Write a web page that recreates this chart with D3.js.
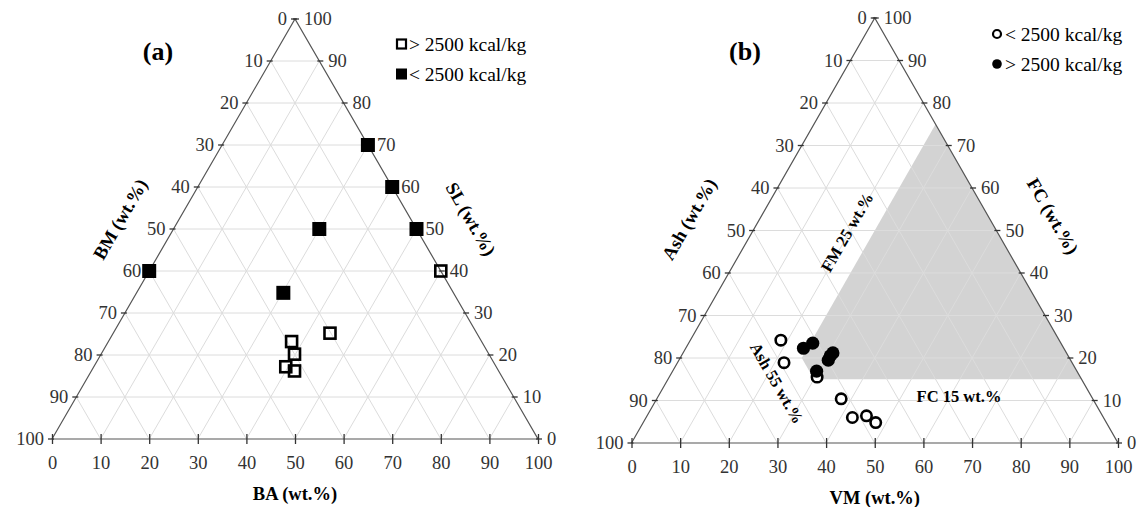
<!DOCTYPE html>
<html>
<head>
<meta charset="utf-8">
<script src="https://cdn.jsdelivr.net/npm/d3@7"></script>
<style>
  body { margin: 0; background: #fff; }
  svg text { font-family: "Liberation Serif", "Times New Roman", serif; }
</style>
</head>
<body>
<div id="chart"></div>
<script>
// valores de ticks en los tres ejes
const ticks = [0, 10, 20, 30, 40, 50, 60, 70, 80, 90, 100];

// (a) BA = eje inferior, SL = eje derecho, BM = 100 - BA - SL
const aOpenBA = [60, 44.6, 37.7, 39.8, 39.5, 41.8];
const aOpenSL = [40, 25.2, 23.2, 20.2, 17.2, 16.2];
const aFilledBA = [30, 40, 50, 30, 0, 30.2];
const aFilledSL = [70, 60, 50, 50, 40, 34.8];

// (b) VM = eje inferior, FC = eje derecho, Ash = 100 - VM - FC
const bOpenVM = [18.6, 21.9, 30.4, 37.9, 42.4, 45.1, 47.8];
const bOpenFC = [24.2, 18.9, 15.5, 10.4, 6.0, 6.4, 4.8];
const bFilledVM = [24.2, 25.5, 30.7, 30.8, 30.6, 29.6];
const bFilledFC = [22.3, 23.5, 19.5, 21.2, 20.5, 16.9];

// zona sombreada (VM >= 25, Ash <= 55, FC >= 15)
const regionVM = [25, 25, 30, 85];
const regionFC = [75, 20, 15, 15];

const svg = d3.select("#chart").append("svg")
    .attr("width", 1142)
    .attr("height", 507);

function ternary(cfg) {
    const g = svg.append("g");
    const x = d3.scaleLinear().domain([0, 100]).range([cfg.left, cfg.right]);
    const y = d3.scaleLinear().domain([0, 100]).range([cfg.bottom, cfg.top]);
    // b = variable inferior, r = variable derecha
    const px = (b, r) => x(b + r / 2);
    const py = (b, r) => y(r);

    // region sombreada
    if (cfg.region) {
        const pts = cfg.region.vm.map((v, i) => [px(v, cfg.region.fc[i]), py(v, cfg.region.fc[i])]);
        g.append("path")
            .attr("d", d3.line()(pts) + "Z")
            .attr("fill", "#d3d3d3");
    }

    // grilla
    const grid = g.append("g").attr("stroke", "#dcdcdc").attr("stroke-width", 1);
    ticks.slice(1, -1).forEach(k => {
        grid.append("line") // derecha constante (horizontal)
            .attr("x1", px(0, k)).attr("y1", py(0, k))
            .attr("x2", px(100 - k, k)).attr("y2", py(100 - k, k));
        grid.append("line") // inferior constante
            .attr("x1", px(k, 0)).attr("y1", py(k, 0))
            .attr("x2", px(k, 100 - k)).attr("y2", py(k, 100 - k));
        grid.append("line") // izquierda constante
            .attr("x1", px(100 - k, 0)).attr("y1", py(100 - k, 0))
            .attr("x2", px(0, 100 - k)).attr("y2", py(0, 100 - k));
    });

    // bordes
    g.append("path")
        .attr("d", d3.line()([[px(0, 0), py(0, 0)], [px(100, 0), py(100, 0)], [px(0, 100), py(0, 100)], [px(0, 0), py(0, 0)]]))
        .attr("fill", "none")
        .attr("stroke", "#555")
        .attr("stroke-width", 1.2);

    // eje inferior
    const bx = g.append("g")
        .attr("transform", `translate(0, ${cfg.bottom})`)
        .call(d3.axisBottom(x).tickValues(ticks).tickSize(5).tickPadding(12));
    bx.select(".domain").remove();
    bx.selectAll(".tick line").attr("y1", -5).attr("stroke", "#333").attr("stroke-width", 1.3);
    bx.selectAll(".tick text")
        .attr("font-size", 18.5)
        .attr("fill", "#333");

    // ticks izquierda y derecha
    ticks.forEach(k => {
        const lx = px(0, 100 - k), ly = py(0, 100 - k);
        g.append("line").attr("x1", lx - 4).attr("x2", lx + 2).attr("y1", ly).attr("y2", ly)
            .attr("stroke", "#333").attr("stroke-width", 1.3);
        g.append("text")
            .attr("x", lx - 8).attr("y", ly).attr("dy", "0.35em")
            .attr("text-anchor", "end")
            .attr("font-size", 18.5).attr("fill", "#333")
            .text(k);
        const rx = px(100 - k, k), ry = py(100 - k, k);
        g.append("line").attr("x1", rx - 2).attr("x2", rx + 4).attr("y1", ry).attr("y2", ry)
            .attr("stroke", "#333").attr("stroke-width", 1.3);
        g.append("text")
            .attr("x", rx + 9).attr("y", ry).attr("dy", "0.35em")
            .attr("font-size", 18.5).attr("fill", "#333")
            .text(k);
    });

    // titulos
    g.append("text")
        .attr("x", (cfg.left + cfg.right) / 2).attr("y", cfg.bottom + 61)
        .attr("text-anchor", "middle")
        .attr("font-weight", "bold").attr("font-size", 18.5)
        .text(cfg.bottomTitle);
    g.append("text")
        .attr("transform", `translate(${cfg.leftTitle[1]}, ${cfg.leftTitle[2]}) rotate(-60)`)
        .attr("text-anchor", "middle").attr("dy", "0.35em")
        .attr("font-weight", "bold").attr("font-size", 18.5)
        .text(cfg.leftTitle[0]);
    g.append("text")
        .attr("transform", `translate(${cfg.rightTitle[1]}, ${cfg.rightTitle[2]}) rotate(60)`)
        .attr("text-anchor", "middle").attr("dy", "0.35em")
        .attr("font-weight", "bold").attr("font-size", 18.5)
        .text(cfg.rightTitle[0]);
    g.append("text")
        .attr("x", cfg.tag[1]).attr("y", cfg.tag[2])
        .attr("text-anchor", "middle")
        .attr("font-weight", "bold").attr("font-size", 26)
        .text(cfg.tag[0]);

    return { g, px, py };
}

// ---------- (a) ----------
const A = ternary({
    left: 52, right: 538, bottom: 439, top: 19,
    bottomTitle: "BA (wt.%)",
    leftTitle: ["BM (wt.%)", 120, 219],
    rightTitle: ["SL (wt.%)", 471, 219],
    tag: ["(a)", 158, 60]
});

A.g.selectAll(".sqf")
    .data(aFilledBA.map((v, i) => [v, aFilledSL[i]]))
    .enter().append("rect")
    .attr("x", d => A.px(d[0], d[1]) - 7)
    .attr("y", d => A.py(d[0], d[1]) - 7)
    .attr("width", 14).attr("height", 14)
    .attr("fill", "#000");

A.g.selectAll(".sqo")
    .data(aOpenBA.map((v, i) => [v, aOpenSL[i]]))
    .enter().append("rect")
    .attr("x", d => A.px(d[0], d[1]) - 5.5)
    .attr("y", d => A.py(d[0], d[1]) - 5.5)
    .attr("width", 11).attr("height", 11)
    .attr("fill", "none")
    .attr("stroke", "#000").attr("stroke-width", 2.6);

// leyenda (a)
A.g.append("rect").attr("x", 397).attr("y", 39.5).attr("width", 9).attr("height", 9)
    .attr("fill", "none").attr("stroke", "#000").attr("stroke-width", 2.2);
A.g.append("text").attr("x", 409).attr("y", 51).attr("font-size", 19.5).text("> 2500 kcal/kg");
A.g.append("rect").attr("x", 396).attr("y", 68.5).attr("width", 11).attr("height", 11).attr("fill", "#000");
A.g.append("text").attr("x", 409).attr("y", 81).attr("font-size", 19.5).text("< 2500 kcal/kg");

// ---------- (b) ----------
const B = ternary({
    left: 631.5, right: 1118, bottom: 443, top: 18,
    bottomTitle: "VM (wt.%)",
    leftTitle: ["Ash (wt.%)", 689, 219],
    rightTitle: ["FC (wt.%)", 1053, 216],
    tag: ["(b)", 745, 60],
    region: { vm: regionVM, fc: regionFC }
});

// anotaciones
B.g.append("text")
    .attr("transform", `translate(847, 232) rotate(-60)`)
    .attr("text-anchor", "middle").attr("dy", "0.35em")
    .attr("font-weight", "bold").attr("font-size", 16.5)
    .text("FM 25 wt.%");
B.g.append("text")
    .attr("transform", `translate(777, 383) rotate(60)`)
    .attr("text-anchor", "middle").attr("dy", "0.35em")
    .attr("font-weight", "bold").attr("font-size", 16.5)
    .text("Ash 55 wt.%");
B.g.append("text")
    .attr("x", 959).attr("y", 402)
    .attr("text-anchor", "middle")
    .attr("font-weight", "bold").attr("font-size", 16.5)
    .text("FC 15 wt.%");

B.g.selectAll(".co")
    .data(bOpenVM.map((v, i) => [v, bOpenFC[i]]))
    .enter().append("circle")
    .attr("cx", d => B.px(d[0], d[1]))
    .attr("cy", d => B.py(d[0], d[1]))
    .attr("r", 5.2)
    .attr("fill", "#fff")
    .attr("stroke", "#000").attr("stroke-width", 2.6);

B.g.selectAll(".cf")
    .data(bFilledVM.map((v, i) => [v, bFilledFC[i]]))
    .enter().append("circle")
    .attr("cx", d => B.px(d[0], d[1]))
    .attr("cy", d => B.py(d[0], d[1]))
    .attr("r", 6.6)
    .attr("fill", "#000");

// leyenda (b)
B.g.append("circle").attr("cx", 997).attr("cy", 34).attr("r", 4).attr("fill", "none")
    .attr("stroke", "#000").attr("stroke-width", 2.2);
B.g.append("text").attr("x", 1005).attr("y", 40.5).attr("font-size", 19.5).text("< 2500 kcal/kg");
B.g.append("circle").attr("cx", 997).attr("cy", 64).attr("r", 4.8).attr("fill", "#000");
B.g.append("text").attr("x", 1005).attr("y", 70.5).attr("font-size", 19.5).text("> 2500 kcal/kg");
</script>
</body>
</html>
